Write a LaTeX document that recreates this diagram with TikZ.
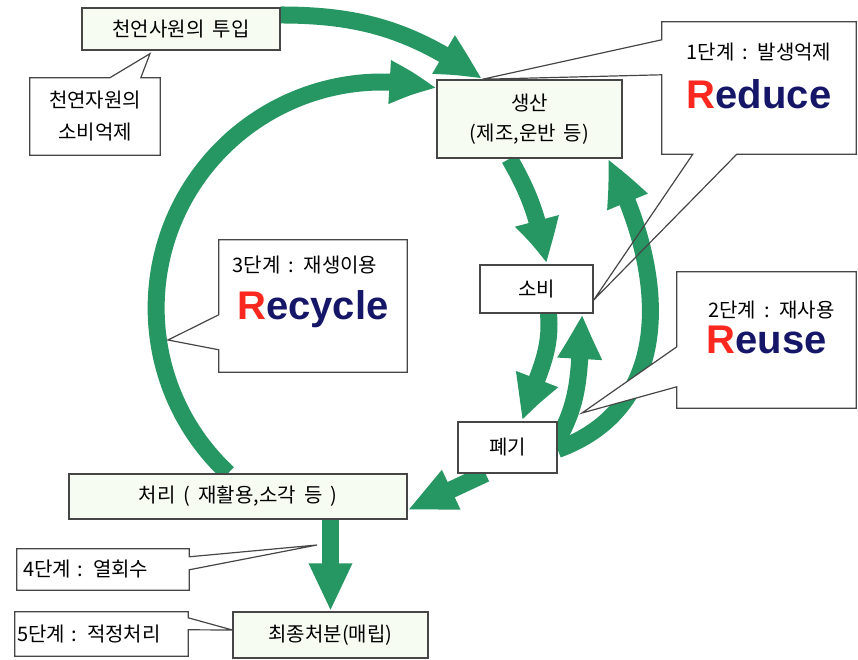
\documentclass[tikz,border=0pt]{standalone}
\usepackage{fontspec}
\setmainfont{Noto Sans CJK KR}[WordSpace=1.8]
\newfontfamily\wordfont{Liberation Sans}
\usetikzlibrary{arrows.meta,bending,backgrounds}
\definecolor{flowgreen}{RGB}{38,150,98}
\definecolor{boxline}{RGB}{70,70,70}
\definecolor{boxfill}{RGB}{246,252,242}
\definecolor{wordred}{RGB}{250,40,30}
\definecolor{wordblue}{RGB}{22,22,105}
\tikzset{
  flowbox/.style={draw=boxline, line width=1.4pt, fill=boxfill, inner sep=0pt, align=center, font=\fontsize{20pt}{30pt}\selectfont},
  plainbox/.style={flowbox, fill=white},
  frame/.style={inner sep=0pt, align=center, font=\fontsize{20pt}{32pt}\selectfont},
  callout/.style={draw=boxline, line width=1.2pt, line join=miter},
  steptext/.style={inner sep=0pt, font=\fontsize{20pt}{24pt}\selectfont},
  bigword/.style={inner sep=0pt, text=wordblue, font=\wordfont\bfseries\fontsize{40pt}{44pt}\selectfont},
  flow/.style={draw=flowgreen, line width=17pt, -{Triangle[length=48pt,width=40pt,bend]}},
}
\begin{document}
\begin{tikzpicture}[x=1pt,y=1pt]
\useasboundingbox (0,0) rectangle (858,660);
% main flow
\node[flowbox, minimum width=198pt, minimum height=42pt] (input) at (181,631) {천언사원의 투입};
\node[flowbox, minimum width=185pt, minimum height=78pt] (prod) at (529.5,541) {생산\\(제조,운반 등)};
\node[plainbox, minimum width=113pt, minimum height=48pt] (cons) at (536.5,371) {소비};
\node[plainbox, minimum width=99pt, minimum height=51pt] (waste) at (507.5,212.5) {폐기};
\node[flowbox, minimum width=338pt, minimum height=45pt] (treat) at (238,163.5) {처리 ( 재활용,소각 등 )};
\node[flowbox, minimum width=195pt, minimum height=46pt] (final) at (330.5,25) {최종처분(매립)};
% callouts
\node[frame, minimum width=130pt, minimum height=77pt] (save) at (95,543.5) {천연자원의\\소비억제};
\node[frame, minimum width=194pt, minimum height=132pt] (reduce) at (759,572) {};
\node[frame, minimum width=188pt, minimum height=132pt] (recycle) at (313,354) {};
\node[frame, minimum width=179pt, minimum height=136pt] (reuse) at (766.5,320) {};
\node[frame, minimum width=172pt, minimum height=41pt, text width=160pt, align=left] (heat) at (103,90.5) {4단계 : 열회수};
\node[frame, minimum width=173pt, minimum height=44pt, text width=169pt, align=left] (stage5) at (101.5,26) {5단계 : 적정처리};
\node[steptext] (reduce1) at ([yshift=-30pt]reduce.north) {1단계 : 발생억제};
\node[bigword] (reduce2) at ([yshift=-72pt]reduce.north) {\textcolor{wordred}{R}educe};
\node[steptext] (recycle1) at ([shift={(-8pt,-25pt)}]recycle.north) {3단계 : 재생이용};
\node[bigword] (recycle2) at ([yshift=-69pt]recycle.north) {\textcolor{wordred}{R}ecycle};
\node[steptext] (reuse1) at ([shift={(5pt,-38pt)}]reuse.north) {2단계 : 재사용};
\node[bigword] (reuse2) at ([yshift=-68pt]reuse.north) {\textcolor{wordred}{R}euse};
\coordinate (savetip) at ([shift={(-31pt,-3pt)}]input.south);
\coordinate (prodtip) at ([xshift=46pt]prod.north west);
\coordinate (constip) at ([yshift=-11pt]cons.east);
\coordinate (recycletip) at (168,320);
\coordinate (reusetip) at (582,247);
\coordinate (heattip) at (317,115);
\coordinate (finaltip) at ([yshift=5pt]final.west);
\begin{scope}[on background layer]
% green arrows
\draw[flow] ([yshift=14pt]input.east) to[out=0,in=145] (prodtip);
\draw[flow] ([xshift=-10pt]treat.north) arc[start angle=227, end angle=76, radius=226];
\draw[flow] ([xshift=-20pt]prod.south) to[out=-60,in=100] ([xshift=10pt]cons.north);
\draw[flow] ([xshift=12pt]cons.south) to[out=-85,in=75] ([xshift=15pt]waste.north);
\draw[flow] ([yshift=8pt]waste.east) to[out=60,in=-95] ([xshift=46pt]cons.south);
\draw[flow] ([yshift=-2pt]waste.east) to[out=20,in=-62,looseness=1.1] ([xshift=78pt]prod.south);
\draw[flow] ([xshift=-22pt]waste.south) -- ([yshift=-13.5pt]treat.east);
\draw[flow] (final.north |- treat.south) -- (final.north);
% callout outlines
\draw[callout, fill=white] (save.north west) -- ([xshift=80pt]save.north west) -- (savetip) -- ([xshift=111pt]save.north west) -- (save.north east) -- (save.south east) -- (save.south west) -- cycle;
\draw[callout] (reduce.north west) -- ([yshift=-18pt]reduce.north west) -- (prodtip) -- ([yshift=-53pt]reduce.north west) -- (reduce.south west) -- ([xshift=31pt]reduce.south west) -- (constip) -- ([xshift=75pt]reduce.south west) -- (reduce.south east) -- (reduce.north east) -- cycle;
\draw[callout, fill=white] (recycle.north west) -- ([yshift=-75pt]recycle.north west) -- (recycletip) -- ([yshift=-110pt]recycle.north west) -- (recycle.south west) -- (recycle.south east) -- (recycle.north east) -- cycle;
\draw[callout, fill=white] (reuse.north west) -- ([yshift=-75pt]reuse.north west) -- (reusetip) -- ([yshift=-115pt]reuse.north west) -- (reuse.south west) -- (reuse.south east) -- (reuse.north east) -- cycle;
\draw[callout, fill=white] (heat.north west) -- (heat.north east) -- ([yshift=-8pt]heat.north east) -- (heattip) -- ([yshift=-21pt]heat.north east) -- (heat.south east) -- (heat.south west) -- cycle;
\draw[callout, fill=white] (stage5.north west) -- (stage5.north east) -- ([yshift=-6pt]stage5.north east) -- (finaltip) -- ([yshift=-18pt]stage5.north east) -- (stage5.south east) -- (stage5.south west) -- cycle;
\end{scope}
\end{tikzpicture}
\end{document}
